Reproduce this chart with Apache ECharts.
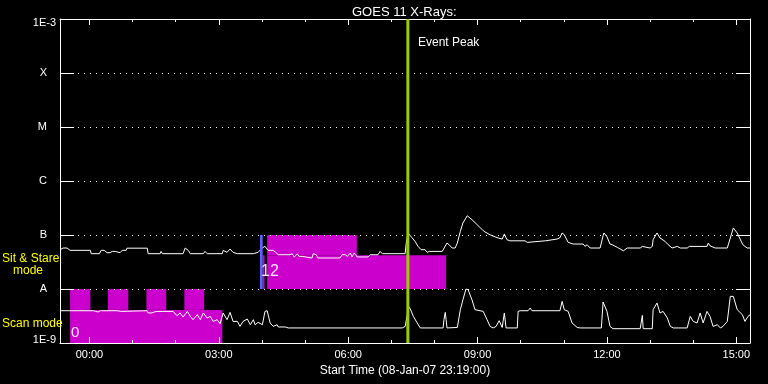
<!DOCTYPE html>
<html><head><meta charset="utf-8">
<script src="https://cdn.jsdelivr.net/npm/echarts@6/dist/echarts.min.js"></script>
<style>html,body{margin:0;padding:0;background:#000}#c{width:768px;height:384px}</style>
</head><body><div id="c"></div>
<script>
// ---- time axis (hours from 00:00 on 09-Jan; start 08-Jan-07 23:19) ----
const xMin = -41 / 60;
const xMax = 15 + 19 / 60;
const majorTicks = [0, 3, 6, 9, 12, 15];
const hourTicks = [0, 1, 2, 3, 4, 5, 6, 7, 8, 9, 10, 11, 12, 13, 14, 15];
const yLabels = {'-3': '1E-3', '-4': 'X', '-5': 'M', '-6': 'C', '-7': 'B', '-8': 'A', '-9': '1E-9'};

// ---- GOES 11 long channel (1-8 A), W/m^2 ----
const longTime = [-0.68,-0.61,-0.52,-0.45,0.02,0.04,0.23,0.27,0.34,0.41,0.48,0.53,0.60,0.64,0.71,0.76,0.85,0.87,1.34,1.36,1.64,1.66,1.69,2.17,2.22,2.29,2.34,2.64,2.68,2.73,3.08,3.10,3.19,3.26,3.33,3.43,3.80,3.84,3.91,4.01,4.07,4.14,4.26,4.31,4.35,4.38,4.65,4.70,4.75,4.79,4.82,4.86,4.93,4.96,5.16,5.19,5.26,5.30,5.81,5.86,5.93,5.98,6.05,6.09,6.14,6.18,6.21,6.46,6.51,6.69,6.74,6.79,7.32,7.34,7.39,7.44,7.48,7.55,7.62,7.69,7.78,7.83,7.88,8.18,8.22,8.29,8.34,8.41,8.48,8.53,8.60,8.66,8.76,8.80,8.87,8.99,9.11,9.17,9.29,9.41,9.48,9.52,9.57,9.62,9.64,9.68,9.75,10.10,10.15,10.17,10.57,10.61,10.84,10.87,10.91,10.96,11.01,11.10,11.22,11.45,11.49,11.54,11.56,11.61,11.84,11.91,11.93,12.00,12.07,12.14,12.24,12.38,12.47,12.77,12.82,12.84,13.00,13.05,13.07,13.16,13.23,13.35,13.42,13.51,13.63,13.70,13.86,13.91,14.32,14.35,14.39,14.51,14.79,14.86,14.93,15.02,15.15,15.25,15.32];
const longFlux = [5.35e-8,5.74e-8,5.74e-8,5.2e-8,5.2e-8,4.51e-8,4.51e-8,5.2e-8,5.2e-8,4.7e-8,4.7e-8,4.97e-8,4.97e-8,4.7e-8,4.7e-8,5.2e-8,5.2e-8,5.7e-8,5.7e-8,4.51e-8,4.51e-8,4.97e-8,4.51e-8,4.51e-8,5.74e-8,5.2e-8,4.51e-8,4.51e-8,4.97e-8,4.51e-8,4.51e-8,5.2e-8,4.77e-8,5.5e-8,4.77e-8,4.51e-8,4.51e-8,4.77e-8,4.77e-8,5.8e-8,6.15e-8,5.2e-8,5.2e-8,4.84e-8,4.97e-8,4.31e-8,4.31e-8,4.51e-8,3.92e-8,3.92e-8,4.45e-8,4.02e-8,4.02e-8,3.75e-8,3.75e-8,4.51e-8,4.31e-8,3.75e-8,3.75e-8,4.31e-8,4.31e-8,4.02e-8,4.64e-8,3.92e-8,4.64e-8,4.64e-8,3.92e-8,3.92e-8,4.31e-8,4.31e-8,4.97e-8,4.51e-8,4.51e-8,6.6e-8,1.09e-7,9.7e-8,8.9e-8,7.6e-8,6.15e-8,5.35e-8,5.35e-8,4.77e-8,4.97e-8,4.97e-8,5.35e-8,7.1e-8,6.6e-8,5.74e-8,5.74e-8,7.1e-8,1.17e-7,1.67e-7,2.27e-7,2.21e-7,1.92e-7,1.55e-7,1.25e-7,1.14e-7,1.01e-7,9.2e-8,8.8e-8,9.4e-8,8.4e-8,1.045e-7,1.045e-7,8.2e-8,7.8e-8,7.8e-8,7.3e-8,7.8e-8,7.8e-8,8.4e-8,8.4e-8,7.8e-8,8.9e-8,1.09e-7,1.01e-7,7.3e-8,6.8e-8,6.8e-8,6.15e-8,6.6e-8,6.15e-8,5.74e-8,5.74e-8,9.7e-8,1.09e-7,9.3e-8,6.8e-8,6.5e-8,5.9e-8,5.1e-8,5.74e-8,5.74e-8,6.15e-8,5.74e-8,5.74e-8,6.15e-8,8.2e-8,1.09e-7,8.8e-8,7.6e-8,6.6e-8,5.74e-8,6.15e-8,5.74e-8,5.74e-8,6.15e-8,6.15e-8,7.1e-8,6.3e-8,5.74e-8,5.74e-8,8.8e-8,1.35e-7,1.09e-7,6.6e-8,5.74e-8,5.74e-8];

// ---- GOES 11 short channel (0.5-4 A), W/m^2 ----
const shortTime = [-0.68,0.09,0.13,0.20,0.25,0.64,0.67,0.74,0.78,1.34,1.36,1.45,1.50,1.57,1.94,2.03,2.10,2.17,2.27,2.34,2.40,2.50,2.57,2.64,2.73,2.80,2.87,2.96,3.03,3.10,3.19,3.26,3.33,3.43,3.49,3.56,3.66,3.73,3.80,3.84,3.91,4.01,4.07,4.12,4.19,4.26,4.35,4.38,4.54,4.61,7.25,7.32,7.37,7.39,7.44,7.51,7.60,7.67,8.20,8.22,8.25,8.27,8.29,8.53,8.60,8.66,8.73,8.78,8.87,8.94,9.13,9.22,9.29,9.36,9.43,9.50,9.57,9.62,9.66,9.92,9.94,9.99,10.17,10.22,10.26,10.91,10.96,11.01,11.10,11.19,11.31,11.38,11.87,11.91,12.00,12.07,12.14,12.77,12.82,12.84,13.05,13.07,13.16,13.23,13.30,13.40,13.47,13.54,13.86,13.93,14.00,14.09,14.16,14.23,14.32,14.39,14.46,14.56,14.63,14.69,14.79,14.86,14.93,15.02,15.14,15.20,15.27,15.32];
const shortFlux = [3.96e-9,3.96e-9,3.75e-9,3.75e-9,3.96e-9,3.96e-9,3.85e-9,3.85e-9,3.96e-9,3.96e-9,3.6e-9,3.6e-9,3.75e-9,3.85e-9,3.85e-9,3.2e-9,3.6e-9,3.03e-9,3.85e-9,3.11e-9,2.7e-9,3.34e-9,2.7e-9,3.6e-9,2.9e-9,3.11e-9,2.51e-9,2.7e-9,2.28e-9,3.6e-9,2.7e-9,3.69e-9,2.51e-9,2.51e-9,2.03e-9,2.51e-9,2.78e-9,2.18e-9,2.7e-9,2.18e-9,2.41e-9,2.18e-9,3.85e-9,3.96e-9,2.35e-9,2.03e-9,2.18e-9,1.98e-9,1.98e-9,1.9e-9,1.9e-9,2.03e-9,3.34e-9,4.9e-9,4.27e-9,3.11e-9,2.35e-9,1.9e-9,1.9e-9,2.7e-9,3.69e-9,2.7e-9,1.9e-9,1.94e-9,4.14e-9,6.3e-9,1.0e-8,9.7e-9,6.3e-9,4.14e-9,3.85e-9,2.7e-9,2.03e-9,1.9e-9,2.03e-9,2.59e-9,1.94e-9,3.6e-9,1.9e-9,1.9e-9,3.85e-9,3.96e-9,3.96e-9,4.45e-9,3.96e-9,3.96e-9,5.9e-9,4.14e-9,3.85e-9,2.35e-9,1.94e-9,1.9e-9,1.9e-9,5.74e-9,3.85e-9,2.03e-9,1.84e-9,1.84e-9,3.24e-9,1.84e-9,1.84e-9,4.14e-9,5.5e-9,3.6e-9,3.85e-9,2.9e-9,2.03e-9,1.9e-9,1.9e-9,3.11e-9,2.51e-9,2.35e-9,3.6e-9,2.35e-9,3.85e-9,3.11e-9,2.03e-9,2.18e-9,1.9e-9,2.03e-9,2.51e-9,7.3e-9,7.3e-9,4.14e-9,3.34e-9,2.51e-9,3.11e-9,3.34e-9];

// ---- observing mode blocks: [tStart, tEnd, fluxLow, fluxHigh] ----
const scanBlocks = [[-0.45, 3.08, 1e-9, 4.1e-9], [-0.45, 0.02, 4.1e-9, 1e-8], [0.43, 0.90, 4.1e-9, 1e-8], [1.32, 1.78, 4.1e-9, 1e-8], [2.20, 2.66, 4.1e-9, 1e-8]];
const stareBlocks = [[4.12, 6.20, 4.2e-8, 1e-7], [4.12, 8.27, 1e-8, 4.2e-8], [4.02, 4.06, 1e-8, 4.2e-8]];
const stareStart = 3.985;   // 03:59
const eventPeak = 7.383;    // 07:23

const FONT = 'Liberation Sans';
const pair = (t, f) => t.map((v, i) => [v, f[i]]);
const pad = n => (n < 10 ? '0' : '') + n;
const hourFmt = v => pad(((Math.round(v) % 24) + 24) % 24) + ':00';

function renderRect(params, api) {
  const p0 = api.coord([api.value(0), api.value(3)]);
  const p1 = api.coord([api.value(1), api.value(2)]);
  return {type: 'rect', shape: {x: p0[0], y: p0[1], width: p1[0] - p0[0], height: p1[1] - p0[1]}, style: {fill: '#cc00cc'}};
}

const xCommon = {type: 'value', min: xMin, max: xMax, splitLine: {show: false}};
const lineWhite = {onZero: false, show: true, lineStyle: {color: '#fff', width: 1}};
const chart = echarts.init(document.getElementById('c'), null, {renderer: 'canvas'});
chart.setOption({
  backgroundColor: '#000',
  animation: false,
  title: {text: 'GOES 11 X-Rays:', left: 347, top: 1,
    textStyle: {color: '#fff', fontFamily: FONT, fontSize: 13, fontWeight: 'normal'}},
  grid: {left: 60, right: 18, top: 19, bottom: 41},
  xAxis: [
    Object.assign({}, xCommon, {position: 'bottom',
      axisLine: lineWhite,
      axisTick: {show: true, inside: true, length: 6, customValues: majorTicks, lineStyle: {color: '#fff'}},
      axisLabel: {show: true, customValues: majorTicks, formatter: hourFmt, color: '#fff', fontFamily: FONT, fontSize: 11, margin: 6},
      name: 'Start Time (08-Jan-07 23:19:00)', nameLocation: 'middle', nameGap: 20,
      nameTextStyle: {color: '#fff', fontFamily: FONT, fontSize: 12}}),
    Object.assign({}, xCommon, {position: 'bottom',
      axisLine: {show: false, onZero: false}, axisLabel: {show: false},
      axisTick: {show: true, inside: true, length: 3, customValues: hourTicks, lineStyle: {color: '#fff'}}}),
    Object.assign({}, xCommon, {position: 'top',
      axisLine: lineWhite, axisLabel: {show: false},
      axisTick: {show: true, inside: true, length: 6, customValues: majorTicks, lineStyle: {color: '#fff'}}}),
    Object.assign({}, xCommon, {position: 'top',
      axisLine: {show: false, onZero: false}, axisLabel: {show: false},
      axisTick: {show: true, inside: true, length: 3, customValues: hourTicks, lineStyle: {color: '#fff'}}})
  ],
  yAxis: [
    {type: 'log', logBase: 10, min: 1e-9, max: 1e-3, position: 'left',
      axisLine: lineWhite,
      axisTick: {show: true, inside: true, length: 14, lineStyle: {color: '#fff'}},
      splitLine: {show: true, lineStyle: {color: '#fff', width: 1, type: [1, 5]}},
      axisLabel: {show: true, margin: 4, color: '#fff', fontFamily: FONT, fontSize: 11,
        formatter: v => {
          const e = Math.round(Math.log10(v));
          const s = yLabels[e] || '';
          if (e === -3) return '{t|' + s + '}';
          if (e === -9) return '{b|' + s + '}';
          return '{p|' + s + '}';
        },
        rich: {
          t: {color: '#fff', fontFamily: FONT, fontSize: 11, padding: [8, 0, 0, 0]},
          b: {color: '#fff', fontFamily: FONT, fontSize: 11, padding: [0, 0, 6, 0]},
          p: {color: '#fff', fontFamily: FONT, fontSize: 11, padding: [0, 9, 0, 0]}
        }}},
    {type: 'log', logBase: 10, min: 1e-9, max: 1e-3, position: 'right',
      axisLine: lineWhite,
      axisTick: {show: true, inside: true, length: 14, lineStyle: {color: '#fff'}},
      splitLine: {show: false}, axisLabel: {show: false}}
  ],
  series: [
    {type: 'custom', name: 'Scan mode', renderItem: renderRect, data: scanBlocks, z: -1,
      encode: {x: [0, 1], y: [2, 3]}, silent: true},
    {type: 'custom', name: 'Sit & Stare mode', renderItem: renderRect, data: stareBlocks, z: -1,
      encode: {x: [0, 1], y: [2, 3]}, silent: true},
    {type: 'line', name: '1-8 A', data: pair(longTime, longFlux), showSymbol: false, symbol: 'none',
      lineStyle: {color: '#fff', width: 1}, z: 3},
    {type: 'line', name: '0.5-4 A', data: pair(shortTime, shortFlux), showSymbol: false, symbol: 'none',
      lineStyle: {color: '#fff', width: 1}, z: 3},
    {type: 'line', name: 'stare start', data: [[stareStart, 1e-8], [stareStart, 1e-7]], showSymbol: false, symbol: 'none',
      lineStyle: {color: '#6060ff', width: 2.7}, z: 4},
    {type: 'line', name: 'Event Peak', data: [[eventPeak, 1e-9], [eventPeak, 1e-3]], showSymbol: false, symbol: 'none',
      lineStyle: {color: '#99cc00', width: 3}, z: 5}
  ],
  graphic: [
    {type: 'text', x: 418, y: 43, z: 10, style: {text: 'Event Peak', fill: '#fff', font: '12px "Liberation Sans"', verticalAlign: 'middle'}},
    {type: 'text', x: 2, y: 258.5, z: 10, style: {text: 'Sit & Stare', fill: '#ffff00', font: '12px "Liberation Sans"', verticalAlign: 'middle'}},
    {type: 'text', x: 13, y: 271, z: 10, style: {text: 'mode', fill: '#ffff00', font: '12px "Liberation Sans"', verticalAlign: 'middle'}},
    {type: 'text', x: 2, y: 323.5, z: 10, style: {text: 'Scan mode', fill: '#ffff00', font: '12px "Liberation Sans"', verticalAlign: 'middle'}},
    {type: 'text', x: 71, y: 333, z: 10, style: {text: '0', fill: '#ffe8ff', font: '15px "Liberation Sans"', verticalAlign: 'middle'}},
    {type: 'text', x: 261, y: 272, z: 10, style: {text: '12', fill: '#ffe8ff', font: '16px "Liberation Sans"', verticalAlign: 'middle'}}
  ]
});
</script></body></html>
